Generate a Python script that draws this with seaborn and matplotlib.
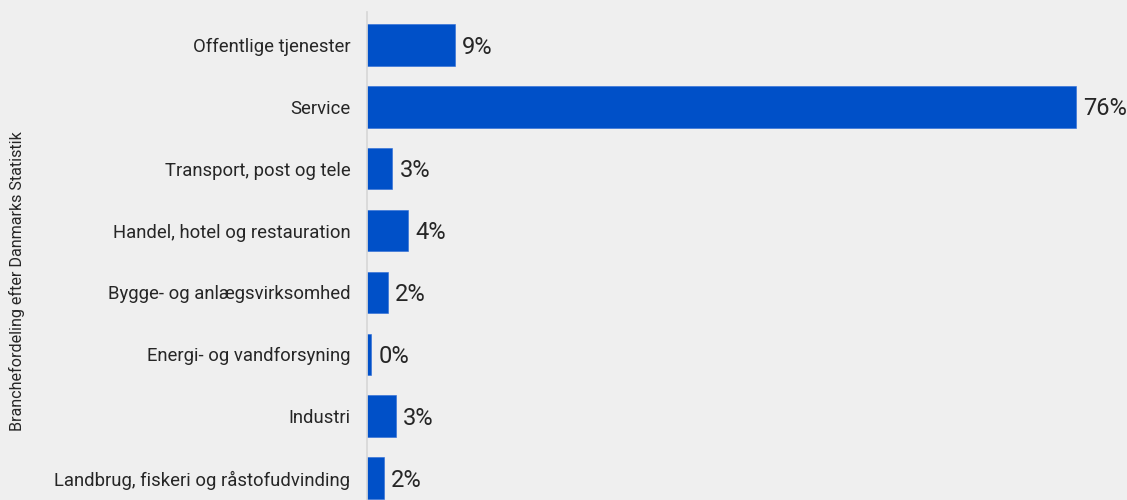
import matplotlib
matplotlib.use("Agg")
import matplotlib.pyplot as plt
import matplotlib.transforms as mtransforms
import seaborn as sns
import pandas as pd

# Share of companies by industry (Danmarks Statistik grouping), in percent
categories = [
    "Offentlige tjenester",
    "Service",
    "Transport, post og tele",
    "Handel, hotel og restauration",
    "Bygge- og anlægsvirksomhed",
    "Energi- og vandforsyning",
    "Industri",
    "Landbrug, fiskeri og råstofudvinding",
]
shares = [9.4, 76.0, 2.7, 4.4, 2.2, 0.4, 3.1, 1.8]
axis_title = "Branchefordeling efter Danmarks Statistik"

df = pd.DataFrame({"branche": categories, "andel": shares})

bg = "#efefef"
bar_color = "#0050c8"
text_color = "#262626"

sns.set_theme(style="white")
plt.rcParams["font.family"] = ["Roboto", "DejaVu Sans"]

W, H, DPI = 1127, 500, 100
fig = plt.figure(figsize=(W / DPI, H / DPI), dpi=DPI, facecolor=bg)
left, right, top = 367, 1113, 14
ax = fig.add_axes([left / W, 0, (right - left) / W, (H - top) / H])
ax.set_facecolor(bg)

sns.barplot(data=df, x="andel", y="branche", order=categories,
            color=bar_color, saturation=1, width=0.67, ax=ax,
            edgecolor="#2a6ad6", linewidth=0.4)

ax.set_xlim(0, 80)
ax.set_ylim(7.355, -0.5)

# value labels, nudged slightly downward to sit on the bar's optical centre
label_tf = ax.transData + mtransforms.ScaledTranslation(0, -1.5 / 72, fig.dpi_scale_trans)
for i, v in enumerate(shares):
    ax.text(v + 0.8, i, f"{v:.0f}%", va="center", ha="left", transform=label_tf,
            fontsize=17, color=text_color, clip_on=False)

for s in ["top", "right", "bottom"]:
    ax.spines[s].set_visible(False)
ax.spines["left"].set_color("#d6d6d6")
ax.spines["left"].set_linewidth(1.2)
ax.spines["left"].set_bounds(7.355, -0.53)

ax.set_xticks([])
ax.tick_params(axis="y", length=0, pad=12, labelsize=13.3, labelcolor=text_color)
ax.set_xlabel("")
ax.set_ylabel("")
fig.text(17 / W, 1 - 281 / H, axis_title, rotation=90, ha="center", va="center",
         fontsize=11.6, color=text_color)

fig.savefig("out.png", dpi=DPI, facecolor=bg)
